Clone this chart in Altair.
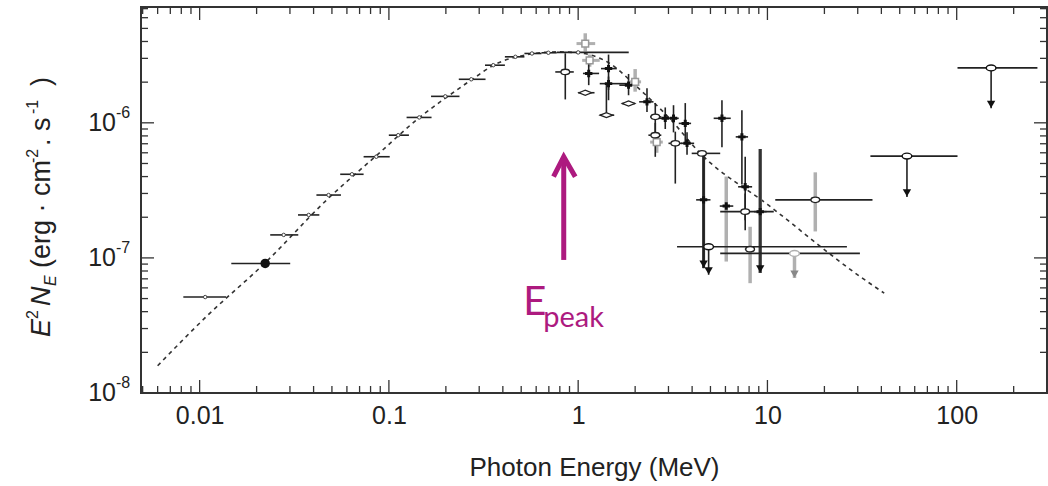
import altair as alt
import pandas as pd

# ---------------- data ----------------
# dashed model curve
model_E = [0.006, 0.0109, 0.0222, 0.0471, 0.0865, 0.1466, 0.203, 0.280, 0.357, 0.475,
           0.773, 1.0, 1.5, 2.0, 3.0, 4.42, 10.0, 30.9, 41.4]
model_y = [1.59e-8, 3.7e-8, 9.2e-8, 2.7e-7, 5.77e-7, 1.107e-6, 1.556e-6, 2.13e-6, 2.67e-6, 3.08e-6,
           3.35e-6, 3.3e-6, 2.7e-6, 1.9e-6, 1.1e-6, 5.94e-7, 2.49e-7, 7.27e-8, 5.48e-8]

# low-energy points (horizontal bars, small markers)
low_E = [0.0107, 0.0278, 0.0377, 0.048, 0.0638, 0.0858, 0.112, 0.1447, 0.1986, 0.2724,
         0.356, 0.466, 0.57, 0.696, 1.0]
low_y = [5.13e-8, 1.48e-7, 2.08e-7, 2.92e-7, 4.16e-7, 5.61e-7, 8.1e-7, 1.096e-6, 1.57e-6, 2.10e-6,
         2.67e-6, 3.08e-6, 3.26e-6, 3.30e-6, 3.32e-6]
low_lo = [0.0082, 0.0236, 0.0331, 0.0414, 0.0553, 0.0735, 0.0999, 0.124, 0.167, 0.234,
          0.322, 0.41, 0.52, 0.64, 0.77]
low_hi = [0.0138, 0.0332, 0.0429, 0.0558, 0.0735, 0.101, 0.1276, 0.168, 0.236, 0.324,
          0.41, 0.52, 0.64, 0.77, 1.85]

# filled circle point
fc_E, fc_y, fc_lo, fc_hi = [0.0222], [9.1e-8], [0.0147], [0.0301]

# open circles
oc_E = [0.855, 2.555, 2.555, 3.26, 4.51, 7.63, 17.9, 8.1]
oc_y = [2.38e-6, 1.107e-6, 8.1e-7, 7.05e-7, 5.94e-7, 2.2e-7, 2.69e-7, 1.16e-7]
oc_Elo = [0.757, 2.4, 2.35, 3.0, 3.98, 5.63, 11.0, 7.6]
oc_Ehi = [0.948, 2.75, 2.75, 3.55, 5.63, 10.8, 35.9, 8.6]
oc_ylo = [1.49e-6, 8.5e-7, 5.6e-7, 3.55e-7, 5.94e-7, 1.6e-7, 1.57e-7, 6.5e-8]
oc_yhi = [3.27e-6, 1.4e-6, 1.0e-6, 8.6e-7, 5.94e-7, 3.0e-7, 4.3e-7, 1.7e-7]
oc_grey = [0, 0, 0, 0, 0, 0, 1, 1]

# filled "star" points
st_E = [1.137, 1.447, 1.447, 1.846, 2.31, 2.885, 3.19, 3.68, 3.76, 5.75, 7.33, 4.60, 6.06, 7.63, 9.16]
st_y = [2.32e-6, 2.52e-6, 1.95e-6, 1.9e-6, 1.43e-6, 1.08e-6, 1.08e-6, 9.9e-7, 7.05e-7, 1.08e-6,
        7.87e-7, 2.69e-7, 2.42e-7, 3.36e-7, 2.2e-7]
st_Elo = [1.06, 1.32, 1.3, 1.65, 2.1, 2.65, 3.0, 3.4, 3.5, 5.2, 6.8, 4.2, 5.6, 7.0, 8.5]
st_Ehi = [1.29, 1.6, 1.85, 2.1, 2.5, 3.1, 3.4, 3.95, 4.1, 6.4, 7.9, 5.0, 6.6, 8.3, 9.9]
st_ylo = [1.9e-6, 1.47e-6, 1.75e-6, 1.6e-6, 1.2e-6, 9e-7, 8.5e-7, 7.0e-7, 5.8e-7, 6.6e-7,
          3.5e-7, 8.4e-8, 9.4e-8, 1.9e-7, 7.74e-8]
st_yhi = [2.8e-6, 3.2e-6, 2.2e-6, 2.3e-6, 1.8e-6, 1.3e-6, 1.35e-6, 1.4e-6, 8.5e-7, 1.47e-6,
          1.24e-6, 5.94e-7, 4.0e-7, 5.6e-7, 6.4e-7]
st_grey = [0, 0, 0, 0, 0, 0, 0, 0, 0, 0, 0, 0, 1, 0, 1]

# open diamonds
dm_E = [1.09, 1.41, 1.846]
dm_y = [1.67e-6, 1.14e-6, 1.39e-6]
dm_Elo = [1.0, 1.3, 1.7]
dm_Ehi = [1.22, 1.55, 2.0]
dm_ylo = [1.67e-6, 1.14e-6, 1.39e-6]
dm_yhi = [1.67e-6, 1.95e-6, 1.39e-6]

# light grey points
gr_E = [1.09, 1.15, 2.0, 2.6]
gr_y = [3.86e-6, 2.9e-6, 2.01e-6, 7.2e-7]
gr_Elo = [0.98, 1.05, 1.85, 2.4]
gr_Ehi = [1.23, 1.3, 2.15, 2.8]
gr_ylo = [3.38e-6, 2.6e-6, 1.7e-6, 6e-7]
gr_yhi = [4.6e-6, 3.2e-6, 2.5e-6, 8.5e-7]

# upper limits
ul_E = [4.89, 13.9, 54.6, 152]
ul_y = [1.21e-7, 1.08e-7, 5.67e-7, 2.55e-6]
ul_Elo = [3.33, 5.63, 35.0, 101]
ul_Ehi = [26.3, 30.8, 101, 267]
ul_tip = [7.5e-8, 7.1e-8, 2.83e-7, 1.28e-6]
ul_grey = [0, 1, 0, 0]
# extra arrow heads at the ends of long downward bars (star points at 4.6 and 9.16)
ar_E = [4.60, 9.16]
ar_y = [8.4e-8, 7.74e-8]

# E_peak annotation
peak_E = 0.839
peak_shaft = [9.66e-8, 5.5e-7]
head_E = [0.741, 0.839, 0.9653]
head_y = [3.99e-7, 5.61e-7, 3.99e-7]

# axis tick values
x_major = [0.01, 0.1, 1, 10, 100]
x_minor = [m * d for d in [0.001, 0.01, 0.1, 1, 10, 100] for m in range(2, 10)
           if 0.0049 < m * d < 290 and m * d not in x_major]
y_major = [1e-8, 1e-7, 1e-6]
y_minor = [m * d for d in [1e-8, 1e-7, 1e-6] for m in range(2, 10) if m * d < 7.2e-6]
y_exp = ["-8", "-7", "-6"]

# y-axis title pieces (rotated text): text, font size, italic, role
ytitle_text = ["E", "2", "N", "E", "(erg · cm", "-2", ". s", "-1", ")"]
ytitle_size = [27, 16, 27, 16, 27, 16, 27, 16, 27]
ytitle_italic = [1, 0, 1, 1, 0, 0, 0, 0, 0]
ytitle_role = ["main", "sup", "main", "sub", "main", "sup", "main", "sup", "main"]

# ---------------- chart ----------------
W, H = 906, 386
BLACK = "#222222"
GREY = "#b0b0b0"
MAG = "#AD1A7F"
FONT = "Liberation Sans"

xs = alt.Scale(type="log", domain=[0.0049, 300], nice=False)
ys = alt.Scale(type="log", domain=[1e-8, 7.2e-6], nice=False)

xaxis = alt.Axis(values=x_major, labelExpr="format(datum.value, '~g')", ticks=False, domain=False,
                 grid=False, labelFont=FONT, labelFontSize=25, labelColor=BLACK, labelPadding=10,
                 labelFlush=False, title="Photon Energy (MeV)", titleFont=FONT, titleFontSize=26,
                 titleFontWeight="normal", titleColor=BLACK, titlePadding=26)
yaxis = alt.Axis(values=y_major, labels=False, ticks=False, domain=False, grid=False, title=None)


def X(f):
    return alt.X(f, type="quantitative", scale=xs, axis=xaxis)


def Y(f):
    return alt.Y(f, type="quantitative", scale=ys, axis=yaxis)


df_model = pd.DataFrame({"E": model_E, "y": model_y, "i": range(len(model_E))})
model = alt.Chart(df_model).mark_line(strokeDash=[4, 4], color="#333", strokeWidth=1.6,
                                      interpolate="monotone").encode(
    x=X("E"), y=Y("y"), order="i:Q")

# collect error bars
h_rows, v_rows = [], []
def add(E, y, lo, hi, ylo, yhi, grey_v, grey_h=None):
    for k in range(len(E)):
        gh = grey_h[k] if grey_h else 0
        if lo[k] != hi[k]:
            h_rows.append({"lo": lo[k], "hi": hi[k], "y": y[k], "c": GREY if gh else BLACK,
                           "w": 3 if gh else 1.6})
        if ylo[k] != yhi[k]:
            g = grey_v[k]
            v_rows.append({"E": E[k], "lo": ylo[k], "hi": yhi[k], "c": GREY if g else BLACK,
                           "w": 3.5 if g else 1.6})

add(low_E, low_y, low_lo, low_hi, low_y, low_y, [0] * len(low_E))
add(fc_E, fc_y, fc_lo, fc_hi, fc_y, fc_y, [0])
add(oc_E, oc_y, oc_Elo, oc_Ehi, oc_ylo, oc_yhi, oc_grey)
add(st_E, st_y, st_Elo, st_Ehi, st_ylo, st_yhi, st_grey)
add(dm_E, dm_y, dm_Elo, dm_Ehi, dm_ylo, dm_yhi, [0] * 3)
add(gr_E, gr_y, gr_Elo, gr_Ehi, gr_ylo, gr_yhi, [1] * 4, [1] * 4)
add(ul_E, ul_y, ul_Elo, ul_Ehi, ul_tip, ul_y, [0, 1, 0, 0])
# thick dark bars under upper-limit style star points
for k, E in enumerate(ar_E):
    v_rows.append({"E": E, "lo": ar_y[k], "hi": st_yhi[st_E.index(E)], "c": "#333", "w": 3})

df_h = pd.DataFrame(h_rows).sort_values("w", ascending=False)
df_v = pd.DataFrame(v_rows).sort_values("w", ascending=False)

hbars = alt.Chart(df_h).mark_rule().encode(
    x=X("lo"), x2="hi:Q", y=Y("y"), color=alt.Color("c:N", scale=None),
    strokeWidth=alt.StrokeWidth("w:Q", scale=None))
vbars = alt.Chart(df_v).mark_rule().encode(
    x=X("E"), y=Y("lo"), y2="hi:Q", color=alt.Color("c:N", scale=None),
    strokeWidth=alt.StrokeWidth("w:Q", scale=None))

ELL = "M-1.3,0A1.3,0.8 0 1,0 1.3,0A1.3,0.8 0 1,0 -1.3,0Z"
df_low = pd.DataFrame({"E": low_E, "y": low_y})
low_pts = alt.Chart(df_low).mark_point(shape="circle", size=12, color="#444",
                                       strokeWidth=1, fill="white", fillOpacity=1).encode(
    x=X("E"), y=Y("y"))
fc_pts = alt.Chart(pd.DataFrame({"E": fc_E, "y": fc_y})).mark_point(
    shape="circle", size=90, filled=True, color="#111", opacity=1).encode(x=X("E"), y=Y("y"))
oc_pts = alt.Chart(pd.DataFrame({"E": oc_E, "y": oc_y})).mark_point(
    shape=ELL, size=45, fill="white", fillOpacity=1, stroke=BLACK, strokeWidth=1.3,
    opacity=1).encode(x=X("E"), y=Y("y"))
st_pts = alt.Chart(pd.DataFrame({"E": st_E, "y": st_y})).mark_point(
    shape="cross", size=55, filled=True, color="#111", opacity=1).encode(x=X("E"), y=Y("y"))
dm_pts = alt.Chart(pd.DataFrame({"E": dm_E, "y": dm_y})).mark_point(
    shape="M-1.5,0L0,-0.6L1.5,0L0,0.6Z", size=70, fill="white", fillOpacity=1, stroke=BLACK,
    strokeWidth=1.3, opacity=1).encode(x=X("E"), y=Y("y"))
gr_pts = alt.Chart(pd.DataFrame({"E": gr_E, "y": gr_y})).mark_point(
    shape="square", size=45, fill="white", fillOpacity=1, stroke="#999", strokeWidth=1.5,
    opacity=1).encode(x=X("E"), y=Y("y"))
df_ul = pd.DataFrame({"E": ul_E, "y": ul_y, "c": [GREY if g else "#111" for g in ul_grey]})
ul_pts = alt.Chart(df_ul).mark_point(
    shape=ELL, size=55, fill="white", fillOpacity=1, strokeWidth=1.4, opacity=1).encode(
    x=X("E"), y=Y("y"), stroke=alt.Stroke("c:N", scale=None))
df_ar = pd.DataFrame({"E": ul_E + ar_E, "y": ul_tip + ar_y,
                      "c": [("#888" if g else "#111") for g in ul_grey] + ["#111", "#111"]})
arrows = alt.Chart(df_ar).mark_point(shape="triangle-down", size=70, filled=True, opacity=1,
                                     yOffset=-4).encode(
    x=X("E"), y=Y("y"), color=alt.Color("c:N", scale=None))

# ticks (inward, all four sides)
def xticks(vals, L):
    d = pd.DataFrame({"v": vals})
    b = alt.Chart(d).mark_rule(color="#333", strokeWidth=1.3).encode(
        x=X("v"), y=alt.value(H), y2=alt.value(H - L))
    t = alt.Chart(d).mark_rule(color="#333", strokeWidth=1.3).encode(
        x=X("v"), y=alt.value(0), y2=alt.value(L))
    return [b, t]

def yticks(vals, L):
    d = pd.DataFrame({"v": vals})
    l = alt.Chart(d).mark_rule(color="#333", strokeWidth=1.3).encode(
        y=Y("v"), x=alt.value(0), x2=alt.value(L))
    r = alt.Chart(d).mark_rule(color="#333", strokeWidth=1.3).encode(
        y=Y("v"), x=alt.value(W - L), x2=alt.value(W))
    return [l, r]

ticks = xticks(x_major, 13) + xticks(x_minor, 7) + yticks(y_major, 13) + yticks(y_minor, 7)

df_yl = pd.DataFrame({"v": y_major, "base": ["10"] * 3, "exp": y_exp})
ylab = alt.Chart(df_yl).mark_text(align="right", baseline="middle", font=FONT, fontSize=25,
                                  color=BLACK).encode(x=alt.value(-25), y=Y("v"), text="base:N")
yexp = alt.Chart(df_yl).mark_text(align="left", baseline="alphabetic", font=FONT, fontSize=16,
                                  color=BLACK, dy=-5).encode(x=alt.value(-25), y=Y("v"),
                                                             text="exp:N")

# rotated y title assembled from pieces (layout positions in pixels, reading upward)
ytitle_start = [330, 312, 299, 279, 261, 156, 139, 107, 79]
role_x = {"main": -91, "sup": -103, "sub": -85}
ytitle_layers = []
for k, t in enumerate(ytitle_text):
    ytitle_layers.append(
        alt.Chart(pd.DataFrame({"t": [t]})).mark_text(
            align="left", baseline="alphabetic", angle=270, font=FONT,
            fontSize=ytitle_size[k], fontStyle="italic" if ytitle_italic[k] else "normal",
            color=BLACK).encode(x=alt.value(role_x[ytitle_role[k]]),
                                y=alt.value(ytitle_start[k]), text="t:N"))

# E_peak arrow and label
shaft = alt.Chart(pd.DataFrame({"E": [peak_E], "a": [peak_shaft[0]], "b": [peak_shaft[1]]})
                  ).mark_rule(color=MAG, strokeWidth=5).encode(x=X("E"), y=Y("a"), y2="b:Q")
head = alt.Chart(pd.DataFrame({"E": head_E, "y": head_y, "i": [0, 1, 2]})).mark_line(
    color=MAG, strokeWidth=5, strokeJoin="miter", strokeCap="butt").encode(
    x=X("E"), y=Y("y"), order="i:Q")
e_txt = alt.Chart(pd.DataFrame({"E": [0.513], "y": [3.79e-8], "t": ["E"]})).mark_text(
    align="left", baseline="alphabetic", font="Lato", fontSize=40, color=MAG).encode(
    x=X("E"), y=Y("y"), text="t:N")
p_txt = alt.Chart(pd.DataFrame({"E": [0.654], "y": [3.09e-8], "t": ["peak"]})).mark_text(
    align="left", baseline="alphabetic", font="Lato", fontSize=29, color=MAG).encode(
    x=X("E"), y=Y("y"), text="t:N")

chart = alt.layer(
    model, vbars, hbars, low_pts, fc_pts, gr_pts, dm_pts, oc_pts, st_pts, ul_pts, arrows,
    *ticks, ylab, yexp, *ytitle_layers, shaft, head, e_txt, p_txt
).properties(
    width=W, height=H, background="white",
    autosize=alt.AutoSizeParams(type="none"),
    padding={"left": 141, "top": 7, "right": 1, "bottom": 93},
).configure_view(stroke="#333", strokeWidth=2)

chart.save("out.html", embed_options={"renderer": "svg", "actions": False})
